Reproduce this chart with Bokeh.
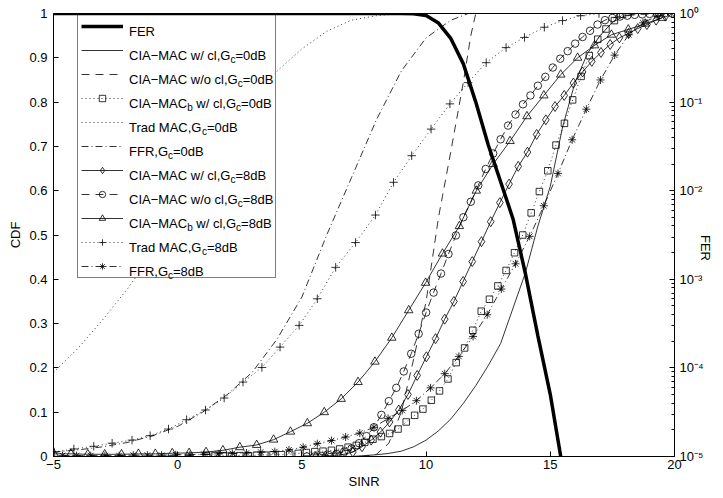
import math
from bokeh.plotting import figure
from bokeh.models import (Range1d, LogScale, LogAxis, FixedTicker, CustomJSTickFormatter,
                          Legend, LegendItem, Label, BoxAnnotation)
from bokeh.embed import file_html
from bokeh.resources import INLINE

# ---------------- data ----------------
fer_sinr = [-5, 0, 5, 9, 9.5, 10, 10.5, 11, 11.5, 12, 12.5, 13, 13.5, 14, 14.5, 15, 15.42, 15.6]
fer_val = [1, 1, 1, 1, 0.995, 0.95, 0.78, 0.52, 0.27, 0.1, 0.033, 0.0126, 0.0048, 0.00115,
           0.00023, 0.00005, 0.00001, 0.000005]

cl0_x = [-5, 7, 7.5, 8, 8.5, 9, 9.5, 10, 10.5, 11, 11.5, 12, 12.5, 13, 13.5, 14, 14.5, 15,
         15.5, 16, 16.5, 17, 17.5, 18, 18.5, 20]
cl0_y = [0, 0, 0.002, 0.004, 0.007, 0.012, 0.022, 0.037, 0.058, 0.085, 0.12, 0.16, 0.205, 0.255,
         0.335, 0.415, 0.52, 0.61, 0.745, 0.845, 0.91, 0.95, 0.98, 0.995, 1.0, 1.0]

nocl0_x = [-5, 7.5, 8.0, 8.5, 9.0, 9.5, 10, 10.5, 11, 11.5, 11.8, 12, 20]
nocl0_y = [0, 0, 0.005, 0.03, 0.1, 0.22, 0.35, 0.54, 0.69, 0.845, 0.95, 1.0, 1.0]

bcl0_x = [1.16, 1.5, 1.83, 2.17, 2.5, 2.84, 3.17, 3.51, 3.84, 4.18, 4.51, 4.85, 5.18, 5.52, 5.85,
          6.19, 6.52, 6.86, 7.19, 7.53, 7.86, 8.2, 8.53, 8.87, 9.2, 9.54, 9.87, 10.21, 10.54,
          10.88, 11.21, 11.55, 11.88, 12.22, 12.55, 12.89, 13.22, 13.56, 13.89, 14.23, 14.56,
          14.9, 15.23, 15.57, 15.9, 16.24, 16.57, 16.91, 17.24, 17.58, 17.91]
bcl0_y = [0.002, 0.002, 0.002, 0.002, 0.002, 0.002, 0.003, 0.003, 0.004, 0.004, 0.005, 0.007,
          0.009, 0.011, 0.012, 0.014, 0.017, 0.021, 0.025, 0.032, 0.039, 0.045, 0.052, 0.062,
          0.078, 0.093, 0.107, 0.127, 0.148, 0.175, 0.212, 0.245, 0.285, 0.328, 0.355, 0.385,
          0.42, 0.46, 0.5, 0.55, 0.598, 0.645, 0.703, 0.752, 0.805, 0.858, 0.905, 0.942, 0.965,
          0.984, 0.998]

trad0_x = [-5, -4, -3, -2, -1, 0, 1, 2, 3, 4, 5, 6, 7, 8, 9, 10, 20]
trad0_y = [0.19, 0.245, 0.31, 0.38, 0.46, 0.55, 0.64, 0.73, 0.81, 0.87, 0.92, 0.96, 0.985,
           0.995, 1.0, 1.0, 1.0]

ffr0_x = [-5, -4, -3, -2, -1, 0, 1, 2, 3, 4, 5, 6, 7, 8, 9, 10, 11, 11.7, 20]
ffr0_y = [0.01, 0.015, 0.022, 0.032, 0.047, 0.068, 0.1, 0.14, 0.19, 0.265, 0.36, 0.5, 0.63,
          0.76, 0.87, 0.945, 0.985, 1.0, 1.0]

cl8_x = [5.57, 5.94, 6.31, 6.68, 7.05, 7.42, 7.79, 8.16, 8.53, 8.9, 9.27, 9.64, 10.01, 10.38,
         10.75, 11.12, 11.49, 11.86, 12.23, 12.6, 12.97, 13.34, 13.71, 14.08, 14.45, 14.82,
         15.19, 15.56, 15.93, 16.3, 16.67, 17.04, 17.41, 17.78, 18.15, 18.52, 18.89, 19.26, 19.63]
cl8_y = [0.0, 0.001, 0.002, 0.005, 0.01, 0.022, 0.037, 0.055, 0.078, 0.105, 0.14, 0.183, 0.225,
         0.266, 0.31, 0.35, 0.395, 0.44, 0.485, 0.53, 0.573, 0.615, 0.655, 0.687, 0.727, 0.76,
         0.79, 0.815, 0.843, 0.868, 0.892, 0.912, 0.93, 0.945, 0.955, 0.966, 0.975, 0.985, 0.994]

nocl8_x = [5.2, 5.5, 5.8, 6.1, 6.4, 6.7, 7.0, 7.3, 7.6, 7.9, 8.2, 8.5, 8.8, 9.1, 9.4, 9.7, 10.0,
           10.3, 10.6, 10.9, 11.2, 11.5, 11.8, 12.1, 12.4, 12.7, 13.0, 13.3, 13.6, 13.9, 14.2,
           14.5, 14.8, 15.1, 15.4, 15.7, 16.0, 16.3, 16.6, 16.9, 17.2, 17.5, 17.8, 18.1, 18.4,
           18.7, 19.0, 19.3, 19.6, 19.9]
nocl8_y = [0.0, 0.0, 0.001, 0.003, 0.006, 0.011, 0.018, 0.03, 0.046, 0.066, 0.094, 0.125, 0.155,
           0.192, 0.232, 0.277, 0.325, 0.37, 0.413, 0.457, 0.499, 0.54, 0.575, 0.612, 0.649,
           0.684, 0.716, 0.747, 0.772, 0.795, 0.815, 0.837, 0.857, 0.878, 0.898, 0.915, 0.932,
           0.947, 0.961, 0.975, 0.985, 0.99, 0.993, 0.995, 0.997, 0.998, 0.999, 1.0, 1.0, 1.0]

bcl8_x = [-4.98, -4.3, -3.62, -2.94, -2.26, -1.58, -0.9, -0.22, 0.46, 1.14, 1.82, 2.5, 3.18,
          3.86, 4.54, 5.22, 5.9, 6.58, 7.26, 7.94, 8.62, 9.3, 9.98, 10.66, 11.34, 12.02, 12.7,
          13.38, 14.06, 14.74, 15.42, 16.1, 16.78, 17.46, 18.14, 18.82, 19.5]
bcl8_y = [0.006, 0.006, 0.005, 0.005, 0.005, 0.006, 0.006, 0.0075, 0.008, 0.01, 0.014, 0.021,
          0.026, 0.038, 0.056, 0.075, 0.1, 0.13, 0.168, 0.214, 0.268, 0.33, 0.392, 0.458, 0.52,
          0.6, 0.66, 0.712, 0.768, 0.815, 0.862, 0.9, 0.928, 0.952, 0.964, 0.977, 0.99]

trad8_x = [-4.97, -4.18, -3.38, -2.64, -1.84, -1.11, -0.37, 0.36, 1.12, 1.87, 2.63, 3.39, 4.12,
           4.89, 5.62, 6.36, 7.16, 7.96, 8.69, 9.42, 10.2, 10.96, 11.69, 12.42, 13.22, 13.96,
           14.76, 15.49, 16.22, 16.96, 17.7]
trad8_y = [0.01, 0.017, 0.023, 0.03, 0.037, 0.047, 0.062, 0.083, 0.105, 0.132, 0.168, 0.201,
           0.247, 0.296, 0.356, 0.427, 0.483, 0.545, 0.619, 0.679, 0.739, 0.796, 0.844, 0.889,
           0.923, 0.946, 0.969, 0.984, 0.995, 1.0, 1.0]

ffr8_x = [-4.64, -4.07, -3.5, -2.93, -2.36, -1.79, -1.22, -0.65, -0.08, 0.49, 1.06, 1.63, 2.2,
          2.77, 3.34, 3.91, 4.48, 5.05, 5.62, 6.19, 6.76, 7.33, 7.9, 8.47, 9.04, 9.61, 10.18,
          10.75, 11.32, 11.89, 12.46, 13.03, 13.6, 14.17, 14.74, 15.31, 15.88, 16.45, 17.02,
          17.59, 18.16, 18.73, 19.3, 19.87]
ffr8_y = [0.002, 0.002, 0.002, 0.002, 0.002, 0.003, 0.003, 0.003, 0.004, 0.004, 0.005, 0.006,
          0.007, 0.008, 0.01, 0.011, 0.015, 0.021, 0.029, 0.036, 0.044, 0.053, 0.066, 0.086,
          0.104, 0.126, 0.155, 0.187, 0.226, 0.271, 0.32, 0.378, 0.435, 0.497, 0.566, 0.639,
          0.715, 0.784, 0.85, 0.906, 0.952, 0.979, 0.994, 1.0]

x_ticks = [-5, 0, 5, 10, 15, 20]
cdf_ticks = [0, 0.1, 0.2, 0.3, 0.4, 0.5, 0.6, 0.7, 0.8, 0.9, 1]
fer_ticks = [1e-5, 1e-4, 1e-3, 1e-2, 1e-1, 1]

legend_texts = ["FER",
                "CIA\u2212MAC w/ cl,G_c=0dB",
                "CIA\u2212MAC w/o cl,G_c=0dB",
                "CIA\u2212MAC_b w/ cl,G_c=0dB",
                "Trad MAC,G_c=0dB",
                "FFR,G_c=0dB",
                "CIA\u2212MAC w/ cl,G_c=8dB",
                "CIA\u2212MAC w/o cl,G_c=8dB",
                "CIA\u2212MAC_b w/ cl,G_c=8dB",
                "Trad MAC,G_c=8dB",
                "FFR,G_c=8dB"]

# ---------------- figure ----------------
FONT = "Liberation Sans"
FS = 13
FRAME_L, FRAME_T, FRAME_B = 53, 13, 456

p = figure(width=723, height=498, output_backend="svg", toolbar_location=None,
           x_range=Range1d(-5, 20), y_range=Range1d(0, 1),
           min_border_left=53, min_border_right=45, min_border_top=13, min_border_bottom=42,
           background_fill_color="white", border_fill_color="white")
p.extra_y_ranges = {"fer": Range1d(1e-5, 1)}
p.extra_y_scales = {"fer": LogScale()}
p.xgrid.visible = False
p.ygrid.visible = False
p.outline_line_color = "black"
p.outline_line_width = 1

xax = p.xaxis[0]
yax = p.yaxis[0]
xax.ticker = FixedTicker(ticks=x_ticks)
xax.formatter = CustomJSTickFormatter(code="return tick < 0 ? '\\u2212' + (-tick) : String(tick);")
yax.ticker = FixedTicker(ticks=cdf_ticks)
yax.formatter = CustomJSTickFormatter(code="return String(tick);")
fer_minor = [k * t for t in fer_ticks[:-1] for k in range(2, 10)]
rax = LogAxis(y_range_name="fer", ticker=FixedTicker(ticks=fer_ticks, minor_ticks=fer_minor))
rax.formatter = CustomJSTickFormatter(code=r"""
const sup = {'-': '\u207b', '0': '\u2070', '1': '\u00b9', '2': '\u00b2', '3': '\u00b3',
             '4': '\u2074', '5': '\u2075', '6': '\u2076', '7': '\u2077', '8': '\u2078', '9': '\u2079'};
const e = Math.round(Math.log10(tick));
return '10' + String(e).split('').map(c => sup[c]).join('');
""")
p.add_layout(rax, "right")

for ax in (xax, yax, rax):
    ax.major_label_text_font = FONT
    ax.major_label_text_font_size = f"{FS}px"
    ax.major_label_text_color = "black"
    ax.axis_label_text_font = FONT
    ax.axis_label_text_font_size = f"{FS}px"
    ax.axis_label_text_font_style = "normal"
    ax.axis_label_text_color = "black"
    ax.axis_line_color = "black"
    ax.major_tick_line_color = "black"
    ax.minor_tick_line_color = "black"
    ax.major_tick_in = 5
    ax.major_tick_out = 0
    ax.minor_tick_in = 0
    ax.minor_tick_out = 0
rax.minor_tick_in = 3
xax.axis_label = "SINR"
xax.major_label_standoff = 3
xax.axis_label_standoff = 2
yax.axis_label = "CDF"
yax.major_label_standoff = 6
yax.axis_label_standoff = 3
rax.major_label_standoff = 5
rax.axis_label = "FER"
rax.axis_label_standoff = -1
rax.axis_label_orientation = -math.pi / 2

LW = 0.8
DASH = "8 6"
DOT = "1 3"
DASHDOT = "7 3 1 3"


def series(x, y, dash, marker=None, size=7):
    rs = [p.line(x, y, line_color="black", line_width=LW, line_dash=dash)]
    if marker:
        rs.append(p.scatter(x, y, marker=marker, size=size, fill_color=None,
                            line_color="black", line_width=LW))
    return rs


r_cl0 = series(cl0_x, cl0_y, "solid")
r_nocl0 = series(nocl0_x, nocl0_y, DASH)
r_bcl0 = series(bcl0_x, bcl0_y, DOT, "square", 6.5)
r_trad0 = series(trad0_x, trad0_y, DOT)
r_ffr0 = series(ffr0_x, ffr0_y, DASHDOT)
r_cl8 = series(cl8_x, cl8_y, "solid", "diamond", 10)
r_nocl8 = series(nocl8_x, nocl8_y, DASH, "circle", 7.5)
r_bcl8 = series(bcl8_x, bcl8_y, "solid", "triangle", 8.5)
r_trad8 = series(trad8_x, trad8_y, DOT, "cross", 8.5)
r_ffr8 = series(ffr8_x, ffr8_y, DASHDOT, "asterisk", 8)
r_fer = [p.line(fer_sinr, fer_val, y_range_name="fer", line_color="black", line_width=3.5)]

groups = [r_fer, r_cl0, r_nocl0, r_bcl0, r_trad0, r_ffr0, r_cl8, r_nocl8, r_bcl8, r_trad8, r_ffr8]
items = [LegendItem(label=" ", renderers=g) for g in groups]

# legend box geometry (canvas px)
LEG_L, LEG_T, PAD, ROW_H, SPACING = 77, 15.5, 3, 16, 8
GLYPH_W, STANDOFF, LABEL_W = 42, 6, 143
n = len(items)
leg_h = n * ROW_H + (n - 1) * SPACING + 2 * PAD
leg_w = 2 * PAD + GLYPH_W + STANDOFF + LABEL_W

# white panel below the legend texts (legend itself is transparent)
p.add_layout(BoxAnnotation(left=LEG_L - FRAME_L, right=LEG_L - FRAME_L + leg_w,
                           top=FRAME_B - LEG_T, bottom=FRAME_B - (LEG_T + leg_h),
                           left_units="screen", right_units="screen",
                           top_units="screen", bottom_units="screen",
                           fill_color="white", fill_alpha=1, line_alpha=0))

# legend text (with subscripts) as text labels, Arial-metric advance widths
W = {' ': .278, ',': .278, '/': .278, '=': .584, '\u2212': .584, '-': .333,
     'A': .667, 'B': .667, 'C': .722, 'D': .722, 'E': .667, 'F': .611, 'G': .778, 'I': .278,
     'M': .833, 'R': .722, 'T': .611, 'a': .556, 'b': .556, 'c': .5, 'd': .556, 'l': .222,
     'o': .556, 'r': .333, 'w': .722}
for ch in "0123456789":
    W[ch] = .556


def tw(s, size):
    return sum(W.get(ch, 0.556) for ch in s) * size


SUB_FS = 10
TEXT_X = 128.5
for k, txt in enumerate(legend_texts):
    cy = LEG_T + PAD + ROW_H / 2 + k * (ROW_H + SPACING)
    base = cy + 4.7
    segs = []
    buf = ""
    i = 0
    while i < len(txt):
        if txt[i] == "_":
            if buf:
                segs.append((buf, False))
                buf = ""
            segs.append((txt[i + 1], True))
            i += 2
        else:
            buf += txt[i]
            i += 1
    if buf:
        segs.append((buf, False))
    x = TEXT_X
    for s, sub in segs:
        size = SUB_FS if sub else FS
        yb = base + (4 if sub else 0)
        lead = len(s) - len(s.lstrip(" "))
        x += tw(" " * lead, size)
        s = s.lstrip(" ")
        p.add_layout(Label(x=x - FRAME_L, y=FRAME_B - yb, x_units="screen", y_units="screen",
                           text=s, text_font=FONT, text_font_size=f"{size}px",
                           text_color="black", text_align="left", text_baseline="alphabetic"))
        x += tw(s, size)

legend = Legend(items=items, location=(LEG_L - FRAME_L, FRAME_B - (LEG_T + leg_h)),
                padding=PAD, spacing=SPACING, glyph_height=ROW_H, label_height=ROW_H,
                glyph_width=GLYPH_W, label_standoff=STANDOFF, label_width=LABEL_W, margin=0,
                label_text_font_size="1px", border_line_color="black", border_line_width=1,
                background_fill_alpha=0)
p.add_layout(legend)

open("out.html", "w").write(file_html(p, INLINE))
